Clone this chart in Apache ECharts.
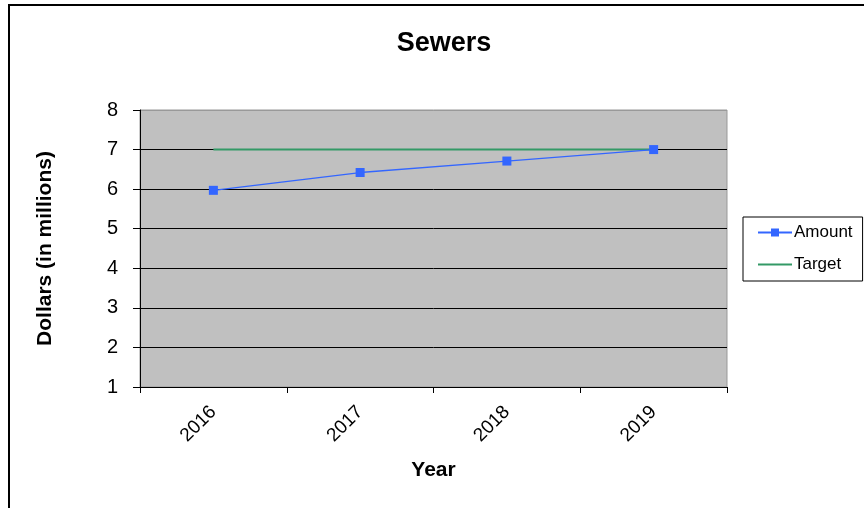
<!DOCTYPE html>
<html>
<head>
<meta charset="utf-8">
<script src="https://cdn.jsdelivr.net/npm/echarts@6/dist/echarts.min.js"></script>
<style>
  html, body { margin: 0; padding: 0; background: #fff; }
  #chart { width: 864px; height: 508px; }
</style>
</head>
<body>
<div id="chart"></div>
<script>
var years = ['2016', '2017', '2018', '2019'];
var amount = [5.97, 6.42, 6.71, 7.0];
var target = [7, 7, 7, 7];
var seriesNames = ['Amount', 'Target'];

var chart = echarts.init(document.getElementById('chart'));
var font = 'Liberation Sans, Arial, sans-serif';
// gridlines black, top edge of the plot stays grey like the frame
var gridColors = ['#000', '#000', '#000', '#000', '#000', '#000', '#000', '#999'];
var option = {
  backgroundColor: '#fff',
  animation: false,
  title: {
    text: 'Sewers',
    left: 439,
    top: 25,
    textAlign: 'center',
    textStyle: { fontFamily: font, fontSize: 27, fontWeight: 'bold', color: '#000' }
  },
  legend: {
    data: [
      { name: seriesNames[0] },
      { name: seriesNames[1], itemStyle: { opacity: 0 } }
    ],
    orient: 'vertical',
    left: 743,
    top: 217,
    width: 119,
    padding: [7, 10, 8, 14],
    itemGap: 15,
    itemWidth: 34,
    itemHeight: 10,
    borderColor: '#000',
    borderWidth: 1,
    textStyle: { fontFamily: font, fontSize: 17, color: '#000', padding: [0, 0, 0, -3] }
  },
  grid: {
    left: 140,
    right: 137,
    top: 110,
    bottom: 121,
    show: true,
    backgroundColor: '#c0c0c0',
    borderColor: '#999',
    borderWidth: 1
  },
  xAxis: {
    type: 'category',
    data: years,
    boundaryGap: true,
    name: 'Year',
    nameLocation: 'middle',
    nameGap: 73,
    nameTextStyle: { fontFamily: font, fontSize: 21, fontWeight: 'bold', color: '#000' },
    axisLine: { lineStyle: { color: '#000', width: 1 } },
    axisTick: { show: true, length: 6, lineStyle: { color: '#000' } },
    axisLabel: { rotate: 45, margin: 22, fontFamily: font, fontSize: 19, color: '#000' },
    splitLine: { show: false }
  },
  yAxis: {
    type: 'value',
    min: 1,
    max: 8,
    interval: 1,
    name: 'Dollars (in millions)',
    nameLocation: 'middle',
    nameGap: 84,
    nameTextStyle: { fontFamily: font, fontSize: 21, fontWeight: 'bold', color: '#000' },
    axisLine: { show: true, lineStyle: { color: '#000', width: 1 } },
    axisTick: { show: true, length: 7, lineStyle: { color: '#000' } },
    axisLabel: { margin: 22, fontFamily: font, fontSize: 20, color: '#000' },
    splitLine: { show: true, lineStyle: { color: gridColors, width: 1 } }
  },
  series: [
    {
      name: seriesNames[0],
      type: 'line',
      data: amount,
      symbol: 'rect',
      symbolSize: 9,
      z: 3,
      color: '#3366ff',
      lineStyle: { color: '#3366ff', width: 1.3 },
      itemStyle: { color: '#3366ff' }
    },
    {
      name: seriesNames[1],
      type: 'line',
      data: target,
      symbol: 'none',
      z: 2,
      color: '#339966',
      lineStyle: { color: '#339966', width: 2 },
      itemStyle: { color: '#339966' }
    }
  ],
  graphic: [
    {
      type: 'rect',
      shape: { x: 9, y: 5, width: 900, height: 600 },
      style: { fill: 'none', stroke: '#000', lineWidth: 2 },
      silent: true
    }
  ]
};
chart.setOption(option);
</script>
</body>
</html>
